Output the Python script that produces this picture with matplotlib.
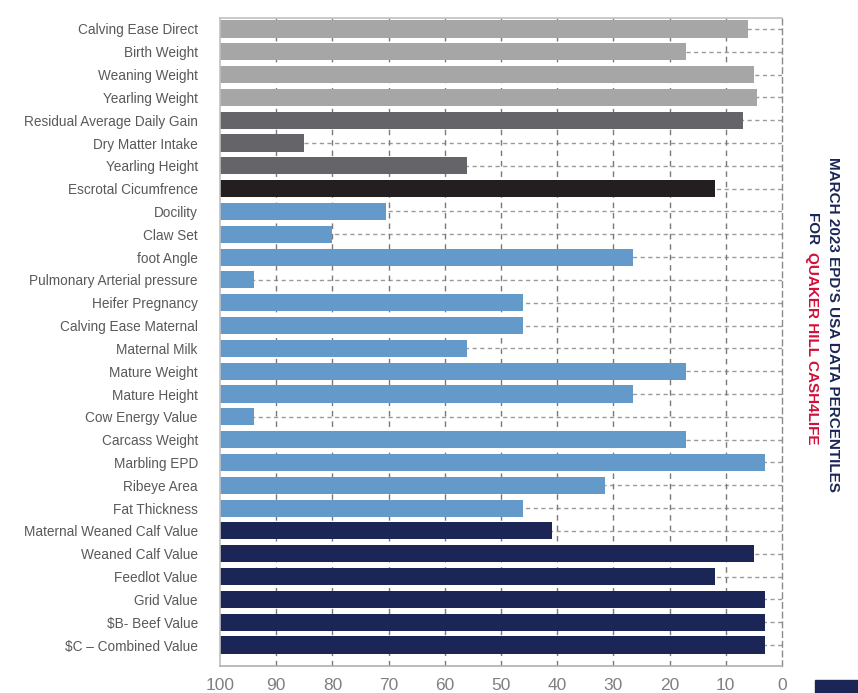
import matplotlib
matplotlib.use("Agg")
import matplotlib.pyplot as plt

categories = ["Calving Ease Direct", "Birth Weight", "Weaning Weight", "Yearling Weight",
              "Residual Average Daily Gain", "Dry Matter Intake", "Yearling Height",
              "Escrotal Cicumfrence", "Docility", "Claw Set", "foot Angle",
              "Pulmonary Arterial pressure", "Heifer Pregnancy", "Calving Ease Maternal",
              "Maternal Milk", "Mature Weight", "Mature Height", "Cow Energy Value",
              "Carcass Weight", "Marbling EPD", "Ribeye Area", "Fat Thickness",
              "Maternal Weaned Calf Value", "Weaned Calf Value", "Feedlot Value",
              "Grid Value", "$B- Beef Value", "$C \u2013 Combined Value"]
percentiles = [6, 17, 5, 4.5, 7, 85, 56, 12, 70.5, 80, 26.5, 94, 46, 46, 56, 17, 26.5, 94,
               17, 3, 31.5, 46, 41, 5, 12, 3, 3, 3]
groups = ["calving"] * 4 + ["feed"] * 3 + ["scrotal"] + ["maternal"] * 14 + ["index"] * 6
group_colors = {"calving": "#a6a6a6", "feed": "#646469", "scrotal": "#231f20",
                "maternal": "#639ac9", "index": "#1b2656"}
xticks = [100, 90, 80, 70, 60, 50, 40, 30, 20, 10, 0]

plt.rcParams["font.family"] = ["Liberation Sans", "DejaVu Sans"]

fig = plt.figure(figsize=(8.58, 6.93), dpi=100)
ax = fig.add_axes([220 / 858, 1 - 666 / 693, (782 - 220) / 858, (666 - 18) / 693])

n = len(categories)
ys = list(range(n))
for y in ys:
    ax.axhline(y, color="#9a9a9a", lw=1.0, ls=(0, (3, 2.5)), zorder=1)
for xv in xticks[1:-1]:
    ax.axvline(xv, color="#7a7a7a", lw=1.0, ls=(0, (4, 3.5)), zorder=1)

colors = [group_colors[g] for g in groups]
ax.barh(ys, [100 - v for v in percentiles], left=percentiles, height=0.75,
        color=colors, zorder=2)

ax.set_xlim(100, 0)
ax.set_ylim(n - 1 + 0.92, -0.48)
ax.set_yticks(ys)
ax.set_yticklabels(categories, fontsize=9.8, color="#595959")
ax.set_xticks(xticks)
ax.set_xticklabels([str(t) for t in xticks], fontsize=12.5, color="#808080")
ax.tick_params(axis="y", length=0, pad=16)
ax.tick_params(axis="x", length=0, pad=9)

for s in ["left", "top"]:
    ax.spines[s].set_color("#c0c0c0")
    ax.spines[s].set_linewidth(1.2)
ax.spines["bottom"].set_color("#b0b0b0")
ax.spines["bottom"].set_linewidth(1.2)
ax.spines["right"].set_color("#8a8a8a")
ax.spines["right"].set_linestyle((0, (4, 3)))
ax.spines["right"].set_linewidth(1.0)

navy = "#1b2656"
crimson = "#d0103a"
fs = 11
fig.text(833 / 858, 1 - 157 / 693, "MARCH 2023 EPD\u2019S USA DATA PERCENTILES",
         rotation=-90, ha="center", va="top", fontsize=fs, fontweight="bold", color=navy)
fig.text(812 / 858, 1 - 213 / 693, "FOR", rotation=-90, ha="center", va="top",
         fontsize=fs, fontweight="bold", color=navy)
fig.text(812 / 858, 1 - 252 / 693, "QUAKER HILL CASH4LIFE", rotation=-90, ha="center",
         va="top", fontsize=fs, fontweight="bold", color=crimson)

fig.patches.append(plt.Rectangle((815 / 858, 0), 43 / 858, 13 / 693, transform=fig.transFigure,
                                 color=navy, zorder=5))

fig.savefig("out.png", dpi=100)
